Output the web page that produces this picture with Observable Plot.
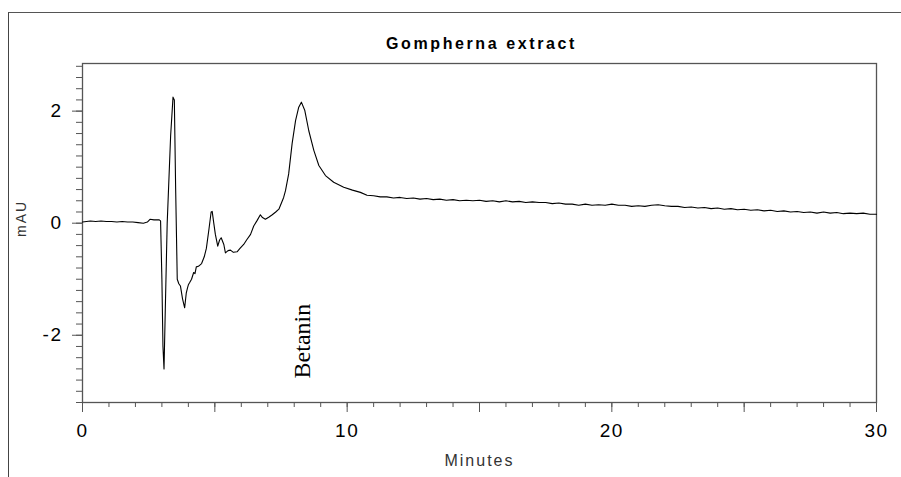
<!DOCTYPE html>
<html>
<head>
<meta charset="utf-8">
<script src="https://cdn.jsdelivr.net/npm/d3@7"></script>
<script src="https://cdn.jsdelivr.net/npm/@observablehq/plot@0.6"></script>
<style>
  html, body { margin: 0; padding: 0; background: #fff; }
  #wrap { position: relative; width: 901px; height: 477px; overflow: hidden; }
  #outer { position: absolute; left: 8px; top: 12px; right: -5px; bottom: -5px; border-left: 1px solid #444; border-top: 1px solid #555; }
  #chart { position: absolute; left: 0; top: 0; }
  #chart svg { font-family: "Liberation Sans", Arial, sans-serif; }
</style>
</head>
<body>
<div id="wrap"><div id="outer"></div><div id="chart"></div></div>
<script>
const title = "Gompherna extract";
const xLabel = "Minutes";
const yLabel = "mAU";
const peakLabel = "Betanin";
const peakLabelPos = [8.31, -2.77];

const xDomain = [0, 30];
const yDomain = [-3.2, 2.85];
const xMajorTicks = [0, 5, 10, 15, 20, 25, 30];
const xTickLabels = [0, 10, 20, 30];
const xMinorTicks = d3.range(0, 31, 1);
const yTickLabels = [-2, 0, 2];
const yMinorTicks = d3.range(-16, 15).map(k => k * 0.2);

const times = [
  0.0, 0.15, 0.3, 0.5, 0.7, 0.9, 1.1, 1.3, 1.5, 1.7, 1.9, 2.1, 2.3, 2.45, 2.55, 2.7, 2.9,
  2.95, 3.0, 3.04, 3.08, 3.13, 3.2, 3.33, 3.42, 3.47, 3.52, 3.58, 3.64, 3.7, 3.78, 3.86, 3.92,
  3.97, 4.0, 4.05, 4.12, 4.2, 4.25, 4.3, 4.38, 4.5, 4.6, 4.68, 4.78, 4.86, 4.9, 4.96, 5.02, 5.11, 5.18,
  5.24, 5.34, 5.4, 5.5, 5.59, 5.7, 5.84, 5.95, 6.09, 6.2, 6.35, 6.47, 6.6, 6.72, 6.8, 6.91,
  7.05, 7.17, 7.3, 7.42, 7.6, 7.67, 7.79, 7.92, 8.05, 8.17, 8.27, 8.4, 8.55, 8.74, 8.93,
  9.18, 9.49, 9.87, 10.2, 10.5, 10.75, 11.0, 11.25, 11.5, 11.75, 12.0, 12.25, 12.5, 12.75,
  13.0, 13.25, 13.5, 13.75, 14.0, 14.25, 14.5, 14.75, 15.0, 15.25, 15.5, 15.75, 16.0, 16.25,
  16.5, 16.75, 17.0, 17.25, 17.5, 17.75, 18.0, 18.25, 18.5, 18.75, 19.0, 19.25, 19.5, 19.75,
  20.0, 20.25, 20.5, 20.75, 21.0, 21.25, 21.5, 21.75, 22.0, 22.25, 22.5, 22.75, 23.0, 23.25,
  23.5, 23.75, 24.0, 24.25, 24.5, 24.75, 25.0, 25.25, 25.5, 25.75, 26.0, 26.25, 26.5, 26.75,
  27.0, 27.25, 27.5, 27.75, 28.0, 28.25, 28.5, 28.75, 29.0, 29.25, 29.5, 29.75, 30.0
];
const values = [
  0.02, 0.03, 0.04, 0.03, 0.04, 0.03, 0.03, 0.02, 0.03, 0.02, 0.02, 0.01, 0.0, 0.02, 0.07, 0.06, 0.06,
  0.04, -1.0, -2.2, -2.6, -1.5, 0.0, 1.56, 2.25, 2.2, 0.6, -1.0, -1.08, -1.12, -1.35, -1.51, -1.25,
  -1.15, -1.1, -1.06, -1.0, -0.88, -0.9, -0.78, -0.77, -0.72, -0.6, -0.45, -0.1, 0.2, 0.21, 0.0, -0.2, -0.41, -0.3,
  -0.26, -0.38, -0.53, -0.49, -0.48, -0.52, -0.51, -0.45, -0.38, -0.3, -0.2, -0.05, 0.05, 0.15, 0.1, 0.07,
  0.11, 0.15, 0.2, 0.25, 0.46, 0.58, 0.88, 1.42, 1.83, 2.07, 2.16, 2.01, 1.65, 1.3, 1.03,
  0.85, 0.73, 0.64, 0.59, 0.55, 0.50, 0.49, 0.47, 0.47, 0.45, 0.46, 0.44, 0.45, 0.43,
  0.44, 0.42, 0.43, 0.41, 0.42, 0.40, 0.41, 0.40, 0.41, 0.39, 0.40, 0.38, 0.40, 0.38,
  0.39, 0.37, 0.38, 0.37, 0.37, 0.35, 0.36, 0.34, 0.34, 0.32, 0.34, 0.32, 0.33, 0.32,
  0.34, 0.32, 0.32, 0.30, 0.31, 0.30, 0.32, 0.33, 0.31, 0.30, 0.30, 0.28, 0.29, 0.27,
  0.28, 0.26, 0.27, 0.25, 0.26, 0.24, 0.25, 0.23, 0.24, 0.22, 0.23, 0.21, 0.22, 0.20,
  0.21, 0.19, 0.20, 0.18, 0.20, 0.18, 0.19, 0.17, 0.18, 0.17, 0.18, 0.16, 0.16
];

const data = times.map((t, i) => ({t, v: values[i]}));

const chart = Plot.plot({
  width: 901,
  height: 477,
  marginTop: 63,
  marginLeft: 82,
  marginRight: 25,
  marginBottom: 75,
  x: {domain: xDomain},
  y: {domain: yDomain},
  style: {fontFamily: "Liberation Sans, Arial, sans-serif", color: "#000", background: "transparent"},
  marks: [
    Plot.axisX({ticks: xMinorTicks, tickSize: 5, tickFormat: () => "", stroke: "#555", label: null}),
    Plot.axisX({ticks: xMajorTicks, tickSize: 10, tickPadding: 11, stroke: "#555", fontSize: 19, fill: "#000",
      tickFormat: d => xTickLabels.includes(d) ? String(d) : "", label: null}),
    Plot.axisY({ticks: yMinorTicks, tickSize: 6, tickFormat: () => "", stroke: "#555", label: null}),
    Plot.axisY({ticks: yTickLabels, tickSize: 10, tickPadding: 10, stroke: "#555", fontSize: 19, fill: "#000",
      tickFormat: d => String(d), label: null}),
    Plot.frame({stroke: "#555", strokeWidth: 1.3}),
    Plot.line(data, {x: "t", y: "v", stroke: "#000", strokeWidth: 1.1}),
    Plot.text([peakLabel], {x: () => peakLabelPos[0], y: () => peakLabelPos[1], text: d => d, rotate: -90,
      textAnchor: "start", fontFamily: "Liberation Serif, Times New Roman, serif", fontSize: 24, fill: "#000"}),
    Plot.text([title], {frameAnchor: "top", lineAnchor: "bottom", dy: -14.7, dx: 2, text: d => d,
      fontWeight: "bold", fontSize: 16, fill: "#000"}),
    Plot.text([xLabel], {frameAnchor: "bottom", lineAnchor: "bottom", dy: 63, dx: 0, text: d => d,
      fontSize: 16, fill: "#333"}),
    Plot.text([yLabel], {frameAnchor: "left", lineAnchor: "bottom", rotate: -90, dx: -56.5, dy: 4, text: d => d,
      fontSize: 14, fill: "#333"})
  ]
});
document.getElementById("chart").appendChild(chart);

// letter spacing as in the original rendering
const spacing = new Map([[title, "2.6px"], [xLabel, "2px"], [yLabel, "2px"]]);
d3.select(chart).selectAll("text").each(function() {
  const s = this.textContent;
  if (spacing.has(s)) this.style.letterSpacing = spacing.get(s);
  else if (s !== peakLabel && /^-?\d+$/.test(s)) this.style.letterSpacing = "1.5px";
});
</script>
</body>
</html>
